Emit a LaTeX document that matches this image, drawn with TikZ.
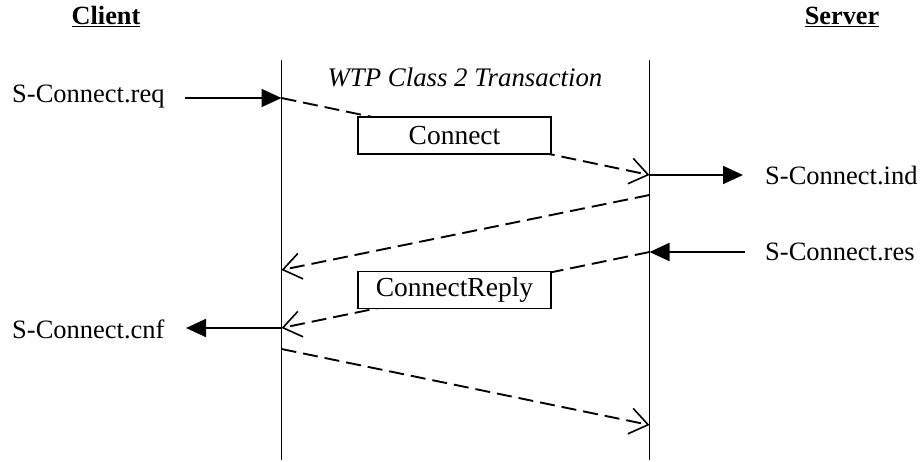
\documentclass[tikz,border=0pt]{standalone}
\usepackage{fontspec}
\setmainfont{Liberation Serif}
\usetikzlibrary{arrows.meta}
\begin{document}
\begin{tikzpicture}[x=1pt,y=-1pt,
  lbl/.style={font=\fontsize{26.5}{31}\selectfont, inner sep=0pt},
  head/.style={font=\fontsize{26.3}{31}\selectfont\bfseries, inner sep=0pt},
  msgbox/.style={draw, line width=1.3pt, fill=white, minimum width=193pt, minimum height=37pt, inner sep=0pt, font=\fontsize{27.5}{32}\selectfont},
  life/.style={line width=1pt},
  prim/.style={line width=1.8pt, -{Triangle[length=20pt,width=18pt]}},
  pdu/.style={line width=1.9pt, dash pattern=on 15pt off 7pt, -{Straight Barb[length=18pt,width=26pt,line width=1.6pt]}}]
\useasboundingbox (0,0) rectangle (923,461);
% headers
\node[head] (client) at (106,17) {\underline{Client}};
\node[head] (server) at (842,17) {\underline{Server}};
% lifelines
\coordinate (ctop) at (281.5,60);
\coordinate (cbot) at (281.5,460);
\coordinate (stop) at (649.5,60);
\coordinate (sbot) at (649.5,460);
\draw[life] (ctop) -- (cbot);
\draw[life] (stop) -- (sbot);
\node[lbl, font=\fontsize{26.8}{31}\selectfont\itshape] (wtp) at (465,77) {WTP Class 2 Transaction};
% points on lifelines
\coordinate (c1) at (281.5,98);
\coordinate (s1) at (649.5,175);
\coordinate (s2) at (649.5,195);
\coordinate (c2) at (281.5,270);
\coordinate (s3) at (649.5,252);
\coordinate (c3) at (281.5,328);
\coordinate (c4) at (281.5,349);
\coordinate (s4) at (649.5,425);
% primitive labels
\node[lbl, anchor=west] (req) at (12,97) {S-Connect.req};
\node[lbl, anchor=west] (ind) at (765,175) {S-Connect.ind};
\node[lbl, anchor=west] (res) at (765,252) {S-Connect.res};
\node[lbl, anchor=west] (cnf) at (12,329) {S-Connect.cnf};
\coordinate (reqs) at (185,98);
\coordinate (inde) at (743,175);
\coordinate (ress) at (745,252);
\coordinate (cnfe) at (186,328);
\draw[prim] (reqs) -- (c1);
\draw[prim] (s1) -- (inde);
\draw[prim] (ress) -- (s3);
\draw[prim] (c3) -- (cnfe);
% PDUs
\draw[pdu] (c1) -- (s1);
\node[msgbox] (connect) at (454.5,135.5) {Connect};
\draw[pdu] (s2) -- (c2);
\draw[pdu] (s3) -- (c3);
\node[msgbox] (reply) at (454.5,290) {ConnectReply};
\draw[pdu] (c4) -- (s4);
\end{tikzpicture}
\end{document}
